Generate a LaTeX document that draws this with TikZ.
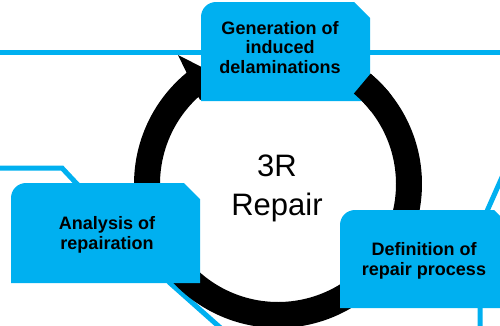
\documentclass[tikz,border=0pt]{standalone}
\usepackage{fontspec}
\setmainfont{Liberation Sans}
\definecolor{boxblue}{HTML}{00B0F0}
\newcommand{\rsbox}[4]{%
  \fill[boxblue] (#1,#4) -- (#1,#2+15) .. controls (#1,#2+6.7) and (#1+6.7,#2) .. (#1+15,#2)
    -- (#3-16,#2) -- (#3,#2+16) -- (#3,#4) -- cycle;}
\tikzset{
  deco/.style={draw=boxblue, line width=5pt},
  boxtext/.style={align=center, inner sep=0pt, font=\fontsize{18}{20}\selectfont\bfseries},
  bigtext/.style={align=center, inner sep=0pt, font=\fontsize{31}{39}\selectfont}
}
\begin{document}
\begin{tikzpicture}[x=1pt,y=-1pt]
\useasboundingbox (0,0) rectangle (500,325);
% decorative lines
\draw[deco] (-3,52) -- (503,52);
\draw[deco] (-3,168) -- (62,168) -- (170,283) -- (224,331);
\draw[deco] (480,330) -- (480,232) -- (487.5,210) -- (507,166);
% circular arrow
\begin{scope}[shift={(278,184)}]
  \fill[black] plot[domain=-50:230.6,samples=140] (\x:144) -- (-100,-129) -- (-43,-100) -- (-78,-84)
    -- plot[domain=227.6:-50,samples=140] (\x:118) -- cycle;
\end{scope}
% boxes
\rsbox{201}{2}{370}{101}
\rsbox{11}{183}{200}{283}
\rsbox{340}{210}{510}{308}
% arrow tail shown over the top box corner
\begin{scope}[shift={(278,184)}]
  \fill[black] plot[domain=-50:-38,samples=20] (\x:144) -- plot[domain=-38:-50,samples=20] (\x:118) -- cycle;
\end{scope}
% texts
\node[boxtext, font=\fontsize{18}{19.5}\selectfont\bfseries] (gen) at (280,47.5) {Generation of\\induced\\delaminations};
\node[boxtext] (ana) at (107,234.4) {Analysis of\\repairation};
\node[boxtext] (def) at (424,260.4) {Definition of\\repair process};
\node[bigtext] (ctr) at (277,188.5) {3R\\Repair};
\end{tikzpicture}
\end{document}
